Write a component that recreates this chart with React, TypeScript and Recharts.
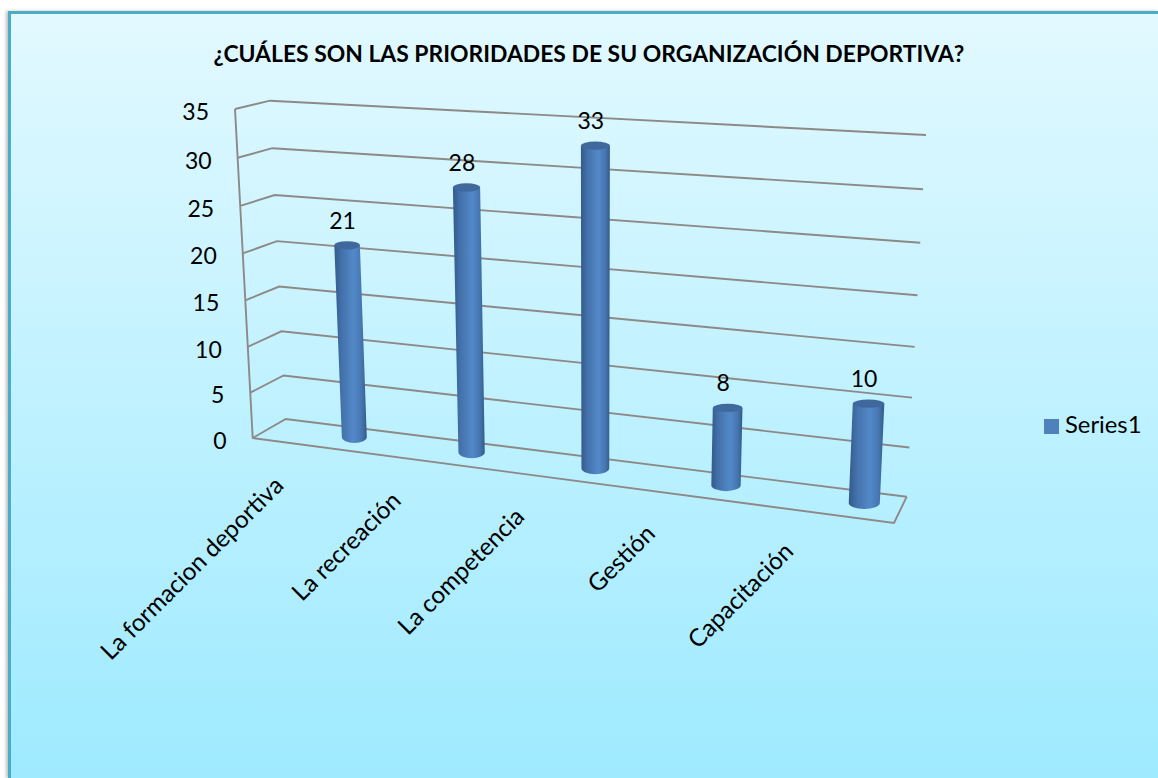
import React from "react";
import { BarChart, Bar, XAxis, YAxis, CartesianGrid, Legend } from "recharts";

const categories = ["La formacion deportiva", "La recreación", "La competencia", "Gestión", "Capacitación"];
const values = [21, 28, 33, 8, 10];
const yTicks = [0, 5, 10, 15, 20, 25, 30, 35];
const title = "¿CUÁLES SON LAS PRIORIDADES DE SU ORGANIZACIÓN DEPORTIVA?";
const seriesName = "Series1";
const rows = categories.map((name, i) => ({ name, [seriesName]: values[i] }));

const FONT = "Lato, Carlito, sans-serif";
const L = 100, T = 100, W = 900, H = 350, MAXV = 35;

type P = [number, number];
function quad(p00: P, p10: P, p11: P, p01: P) {
  const [x0, y0] = p00, [x1, y1] = p10, [x2, y2] = p11, [x3, y3] = p01;
  const dx1 = x1 - x2, dx2 = x3 - x2, sx = x0 - x1 + x2 - x3;
  const dy1 = y1 - y2, dy2 = y3 - y2, sy = y0 - y1 + y2 - y3;
  const den = dx1 * dy2 - dx2 * dy1;
  const g = (sx * dy2 - dx2 * sy) / den, h = (dx1 * sy - sx * dy1) / den;
  const a = x1 - x0 + g * x1, b = x3 - x0 + h * x3, d = y1 - y0 + g * y1, e = y3 - y0 + h * y3;
  return (u: number, v: number): P => {
    const w = g * u + h * v + 1;
    return [(a * u + b * v + x0) / w, (d * u + e * v + y0) / w];
  };
}
// (u along categories, v up the value axis) -> page
const backWall = quad([285.7, 419], [906.7, 496.7], [926, 135], [270, 100.7]);
const sideWall = quad([252.7, 438], [285.7, 419], [270, 100.7], [235, 109]);
const barPlane = quad([297.6, 429.7], [936, 512.3], [956, 145], [282.6, 107.7]);
const floorFrontRight: P = [894, 523];

const uOf = (x: number) => (x - L) / W;
const vOf = (y: number) => (T + H - y) / H;

const LINE = "#8d8987";

function gridLine(props: any) {
  const v = vOf(props.y1);
  const f = sideWall(0, v), b = backWall(0, v), r = backWall(1, v);
  const isFloor = Math.abs(v) < 1e-6;
  const top = sideWall(0, 1), bottom = sideWall(0, 0);
  return (
    <g key={props.key ?? `g${v}`} fill="none" stroke={LINE} strokeWidth={1.9}>
      <polyline points={`${f} ${b} ${r}`} />
      {isFloor && <polyline points={`${top} ${bottom} ${floorFrontRight} ${r}`} />}
    </g>
  );
}

function Cylinder(props: any) {
  const { x, y, width, height } = props;
  const u0 = uOf(x), u1 = uOf(x + width), vT = vOf(y), vB = vOf(y + height);
  const bl = barPlane(u0, vB), br = barPlane(u1, vB), tl = barPlane(u0, vT), tr = barPlane(u1, vT);
  const rxT = Math.hypot(tr[0] - tl[0], tr[1] - tl[1]) / 2;
  const rxB = Math.hypot(br[0] - bl[0], br[1] - bl[1]) / 2;
  const cT: P = [(tl[0] + tr[0]) / 2, (tl[1] + tr[1]) / 2];
  const cB: P = [(bl[0] + br[0]) / 2, (bl[1] + br[1]) / 2];
  const ryT = 4.2, ryB = 6;
  return (
    <g>
      <path
        d={`M${cT[0] - rxT} ${cT[1]} L${cB[0] - rxB} ${cB[1]} A${rxB} ${ryB} 0 0 0 ${cB[0] + rxB} ${cB[1]} L${cT[0] + rxT} ${cT[1]} Z`}
        fill="url(#cyl)"
      />
      <ellipse cx={cT[0]} cy={cT[1]} rx={rxT} ry={ryT} fill="#3f699c" />
    </g>
  );
}

function DataLabel(props: any) {
  const { x, y, width, value } = props;
  const p = barPlane(uOf(x + width / 2), vOf(y));
  return (
    <text x={p[0] - 4.5} y={p[1] - 25} dy="0.36em" textAnchor="middle" fontFamily={FONT} fontSize={23} fill="#000">
      {value}
    </text>
  );
}

function YTick(props: any) {
  const v = vOf(props.y);
  const p = sideWall(0, v);
  return (
    <text x={p[0] - 26} y={p[1] + 2.5} dy="0.36em" textAnchor="end" fontFamily={FONT} fontSize={23} fill="#000">
      {props.payload.value}
    </text>
  );
}

function XTick(props: any) {
  const p = barPlane(uOf(props.x), 0);
  const ax = p[0] - 69, ay = p[1] + 50;
  return (
    <text x={ax} y={ay} textAnchor="end" fontFamily={FONT} fontSize={24.3} fill="#000" transform={`rotate(-45 ${ax} ${ay})`}>
      {props.payload.value}
    </text>
  );
}

export default function App() {
  return (
    <div style={{ position: "absolute", left: 0, top: 0, width: 1158, height: 778, overflow: "hidden" }}>
      <div
        style={{
          position: "absolute",
          left: 8,
          top: 11,
          width: 1150,
          height: 767,
          boxSizing: "border-box",
          borderLeft: "3px solid #4bacc6",
          borderTop: "3px solid #4bacc6",
          boxShadow: "-2px 0 3px rgba(0,0,0,0.25)",
          background: "linear-gradient(180deg,#e2f9ff 0%,#9eeaff 100%)",
        }}
      />
      <div
        style={{
          position: "absolute",
          left: 0,
          width: 1178,
          top: 39,
          textAlign: "center",
          fontFamily: FONT,
          fontWeight: 700,
          fontSize: 22.9,
          lineHeight: "28px",
          color: "#000",
          whiteSpace: "nowrap",
        }}
      >
        {title}
      </div>
      <div style={{ position: "absolute", left: 0, top: 0 }}>
        <BarChart
          width={1158}
          height={778}
          data={rows}
          margin={{ left: L - 1, top: T, right: 1158 - L - W, bottom: 778 - T - H - 1 }}
          barSize={39}
        >
          <defs>
            <linearGradient id="cyl" x1="0" x2="1" y1="0" y2="0">
              <stop offset="0" stopColor="#335a8a" />
              <stop offset="0.2" stopColor="#426fa8" />
              <stop offset="0.6" stopColor="#5389c9" />
              <stop offset="0.85" stopColor="#4575ae" />
              <stop offset="1" stopColor="#335a8a" />
            </linearGradient>
          </defs>
          <CartesianGrid vertical={false} horizontal={gridLine} syncWithTicks />
          <XAxis dataKey="name" height={1} axisLine={false} tickLine={false} interval={0} tick={XTick} />
          <YAxis domain={[0, MAXV]} ticks={yTicks} width={1} axisLine={false} tickLine={false} tick={YTick} />
          <Legend
            layout="vertical"
            align="center"
            verticalAlign="middle"
            iconType="square"
            iconSize={15}
            wrapperStyle={{ left: 1044, top: 410, width: 112, fontFamily: FONT, fontSize: 23.8, color: "#000" }}
            formatter={(value: string) => <span style={{ color: "#000", marginLeft: 2 }}>{value}</span>}
          />
          <Bar dataKey={seriesName} fill="#4f81bd" isAnimationActive={false} shape={Cylinder} label={DataLabel} />
        </BarChart>
      </div>
    </div>
  );
}
